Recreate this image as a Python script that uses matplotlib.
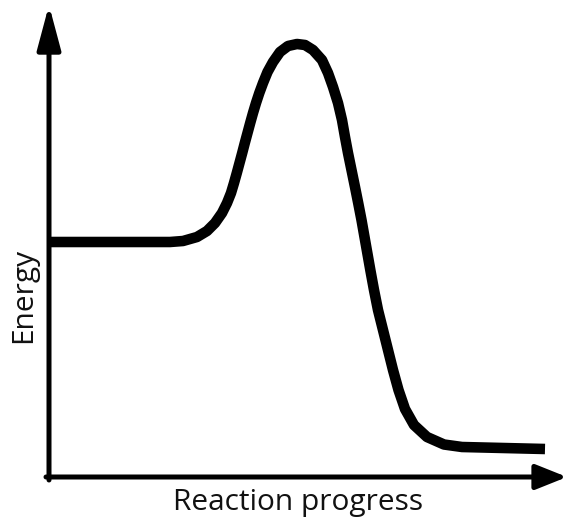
import matplotlib
matplotlib.use("Agg")
import matplotlib.pyplot as plt

progress = [49, 170, 183, 197, 207, 215, 222, 227, 231, 234, 236.8, 239.5,
            242.2, 244.8, 247.5, 250.2, 253, 256, 259.3, 263, 267.5, 273, 280,
            288, 297, 305, 313, 322, 328, 333, 338, 342, 345, 348, 351.5,
            355, 358.2, 361.5, 364.5, 367.5, 370.5, 374, 378, 383, 388, 393,
            398.5, 405, 414, 427, 444, 462, 545]
energy_px = [242, 242, 241, 237, 231, 223, 213, 203, 193, 183, 173, 163,
             153, 143, 133, 123, 113, 103, 93, 83, 72, 62, 52,
             46, 44, 45, 50, 60, 73, 87, 103, 120, 137, 153, 170,
             187, 203, 220, 237, 254, 271, 290, 310, 330, 350, 370,
             390, 409, 425, 437, 444.5, 447, 449]
H = 518
energy = [H - v for v in energy_px]

xlabel = "Reaction progress"
ylabel = "Energy"

plt.rcParams['font.family'] = ['Open Sans', 'DejaVu Sans']

fig = plt.figure(figsize=(5.70, 5.18), dpi=100)
ax = fig.add_axes([0, 0, 1, 1])
ax.set_xlim(0, 570)
ax.set_ylim(0, H)
ax.axis('off')

# axes arrows
ax.annotate('', xy=(49, H - 5), xytext=(49, H - 480),
            arrowprops=dict(arrowstyle='-|>,head_length=2.7,head_width=0.72',
                            lw=3.6, color='black', mutation_scale=10,
                            shrinkA=0, shrinkB=0))
ax.annotate('', xy=(567, H - 477), xytext=(46, H - 477),
            arrowprops=dict(arrowstyle='-|>,head_length=1.9,head_width=0.76',
                            lw=3.6, color='black', mutation_scale=10,
                            shrinkA=0, shrinkB=0))

ax.plot(progress, energy, color='black', lw=7.6,
        solid_capstyle='butt', solid_joinstyle='round')

ax.text(298, H - 510, xlabel, ha='center', va='baseline', fontsize=21.5,
        color='#111111')
ax.text(24, H - 295, ylabel, ha='center', va='center', rotation=90,
        fontsize=21.5, color='#111111')

fig.savefig("out.png", dpi=100)
